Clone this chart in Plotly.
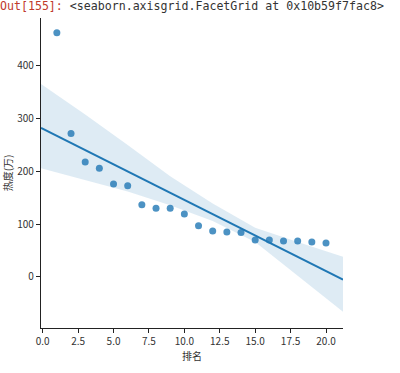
import numpy as np
import plotly.graph_objects as go

# data
rank = list(range(1, 21))
heat = [463, 272, 218, 206, 176, 173, 137, 130, 130, 119, 97, 87, 85, 84, 70, 70, 68, 68, 66, 64]

# confidence band edges
band_x = [-0.12, 3, 6, 9, 12, 15, 18, 21.2]
band_upper = [366, 308, 250, 191, 139, 93, 66, 38]
band_lower = [206, 184, 162, 136, 106, 66, 2, -66]

x_ticks = [0, 2.5, 5, 7.5, 10, 12.5, 15, 17.5, 20]
x_tick_labels = ["0.0", "2.5", "5.0", "7.5", "10.0", "12.5", "15.0", "17.5", "20.0"]
y_ticks = [0, 100, 200, 300, 400]

header = '<span style="color:#c0392b">Out[155]:</span> &lt;seaborn.axisgrid.FacetGrid at 0x10b59f7fac8&gt;'

slope, intercept = np.polyfit(rank, heat, 1)
xr = [band_x[0], band_x[-1]]
yr = [intercept + slope * v for v in xr]

fig = go.Figure()
fig.add_trace(go.Scatter(x=band_x + band_x[::-1], y=band_upper + band_lower[::-1],
                         fill="toself", fillcolor="rgba(31,119,180,0.15)",
                         line=dict(width=0), mode="lines", hoverinfo="skip", showlegend=False))
fig.add_trace(go.Scatter(x=xr, y=yr, mode="lines", line=dict(color="#1f77b4", width=2),
                         showlegend=False))
fig.add_trace(go.Scatter(x=rank, y=heat, mode="markers",
                         marker=dict(color="rgba(31,119,180,0.8)", size=7),
                         showlegend=False))

fnt = "Noto Sans CJK SC, sans-serif"
fig.update_layout(
    width=400, height=373,
    margin=dict(l=41, r=57, t=18, b=45, autoexpand=False),
    paper_bgcolor="white", plot_bgcolor="white",
    font=dict(family=fnt, size=10, color="#333"),
    title=dict(text=header, x=0, xref="container", xanchor="left", y=0.996, yref="container",
               yanchor="top", pad=dict(l=0, t=0),
               font=dict(family="DejaVu Sans Mono", size=11.6, color="#333")),
    xaxis=dict(range=[-0.12, 21.2], tickvals=x_ticks, ticktext=x_tick_labels, automargin=False,
               showgrid=False, zeroline=False, showline=True, linecolor="#222", linewidth=1.2,
               ticks="outside", ticklen=4, tickcolor="#222",
               title=dict(text="排名", font=dict(size=10, family=fnt), standoff=2)),
    yaxis=dict(range=[-97, 491], tickvals=y_ticks, automargin=False,
               showgrid=False, zeroline=False, showline=True, linecolor="#222", linewidth=1.2,
               ticks="outside", ticklen=4, tickcolor="#222",
               title=dict(text="热度(万)", font=dict(size=10, family=fnt), standoff=2)),
)
fig.write_html("out.html", config={"displayModeBar": False},
               post_script="document.body.style.margin='0';")
